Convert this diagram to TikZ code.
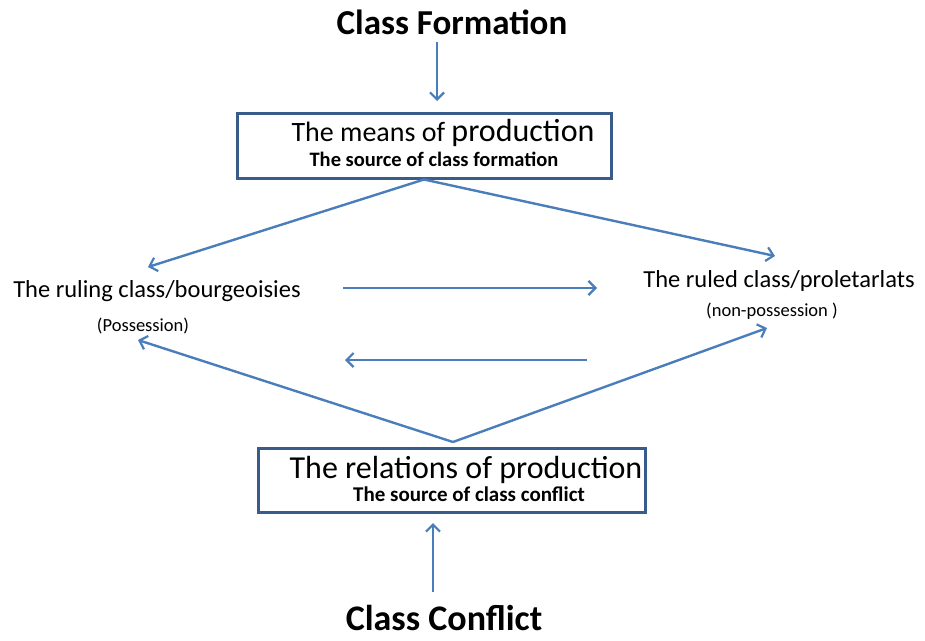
\documentclass[tikz,border=0pt]{standalone}
\usepackage{fontspec}
\setmainfont{Carlito}
\usetikzlibrary{arrows.meta}
\definecolor{arrowblue}{HTML}{4A7EBB}
\definecolor{boxblue}{HTML}{385D8A}
\begin{document}
\begin{tikzpicture}[x=1pt,y=-1pt,
  conn/.style={draw=arrowblue,line width=2.4pt,-{Straight Barb[length=7pt,width=14pt,line width=2.2pt]}},
  framebox/.style={draw=boxblue,line width=3pt,minimum width=374pt,minimum height=65pt,inner sep=0pt},
  titletext/.style={font=\fontsize{35}{40}\selectfont\bfseries,inner sep=0pt},
  labeltext/.style={font=\fontsize{24.5}{28}\selectfont,inner sep=0pt},
  smalltext/.style={font=\fontsize{18.5}{22}\selectfont,inner sep=0pt}]
\useasboundingbox (0,0) rectangle (925,640);
\node[titletext] (cf) at (452,22) {Class Formation};
\node[framebox] (box1) at (424,145.5) {};
\node[inner sep=0pt,font=\fontsize{28}{32}\selectfont] (means) at (443,133) {The means of {\fontsize{32}{36}\selectfont production}};
\node[inner sep=0pt,font=\fontsize{20.5}{24}\selectfont\bfseries] (meanssub) at (434,159) {The source of class formation};
\node[labeltext] (ruling) at (157,291) {The ruling class/bourgeoisies};
\node[smalltext] (poss) at (143,326) {(Possession)};
\node[labeltext] (ruled) at (779,281) {The ruled class/proletarlats};
\node[smalltext] (nonposs) at (772,311) {(non-possession )};
\node[framebox,minimum width=387pt,minimum height=64pt] (box2) at (451.5,480) {};
\node[inner sep=0pt,font=\fontsize{32}{36}\selectfont] (rel) at (466,470) {The relations of production};
\node[inner sep=0pt,font=\fontsize{21}{24}\selectfont\bfseries] (relsub) at (469,494) {The source of class conflict};
\node[titletext,font=\fontsize{36}{40}\selectfont\bfseries] (cc) at (444,618) {Class Conflict};
\coordinate (apex) at (453,442);
\coordinate (lt) at (148,267);
\coordinate (rt) at (775,256);
\coordinate (lb) at (138,340);
\coordinate (rb) at (767,328);
\coordinate (h1a) at (343,288);
\coordinate (h1b) at (597,288);
\coordinate (h2a) at (587,360);
\coordinate (h2b) at (345,360);
\coordinate (upstart) at (433,592);
\coordinate (upend) at (433,523);
\coordinate (downstart) at (437,42);
\coordinate (downend) at (437,101);
\draw[conn] (downstart) -- (downend);
\draw[conn] (box1.south) -- (lt);
\draw[conn] (box1.south) -- (rt);
\draw[conn] (h1a) -- (h1b);
\draw[conn] (h2a) -- (h2b);
\draw[conn] (apex) -- (lb);
\draw[conn] (apex) -- (rb);
\draw[conn] (upstart) -- (upend);
\end{tikzpicture}
\end{document}
